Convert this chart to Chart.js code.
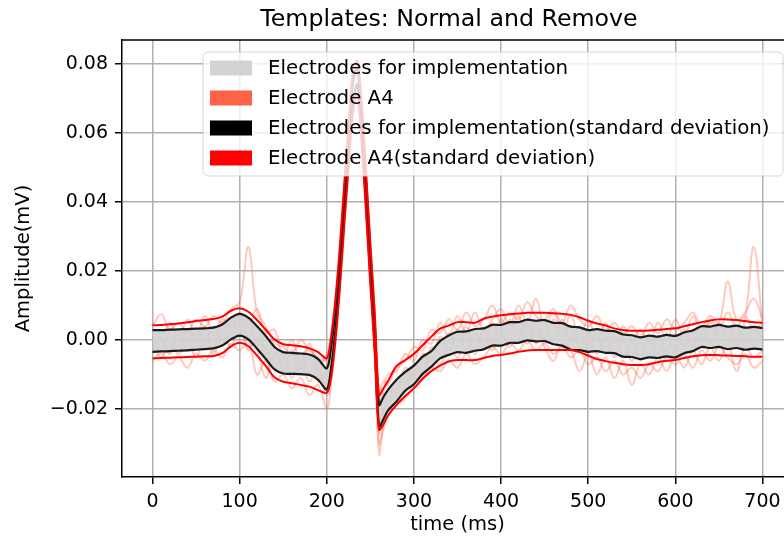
<!DOCTYPE html>
<html>
<head>
<meta charset="utf-8">
<script src="https://cdn.jsdelivr.net/npm/chart.js@4.4.0/dist/chart.umd.min.js"></script>
<style>
  html, body { margin: 0; padding: 0; background: #fff; overflow: hidden; }
  #wrap { width: 800px; height: 538px; }
</style>
</head>
<body>
<div id="wrap"><canvas id="templateChart" width="800" height="538"></canvas></div>
<script>
// time axis (ms), finer around the QRS spike
const times = [0, 10, 20, 30, 40, 50, 60, 70, 80, 90, 100, 110, 120, 130, 140, 150, 160, 170, 180, 190,
  200, 205, 210, 215, 220, 225, 230, 235, 240, 245, 250, 255, 260, 265, 270,
  280, 290, 300, 310, 320, 330, 340, 350, 360, 370, 380, 390, 400, 410, 420, 430, 440, 450, 460, 470, 480, 490, 500,
  510, 520, 530, 540, 550, 560, 570, 580, 590, 600, 610, 620, 630, 640, 650, 660, 670, 680, 690, 700];

// implementation electrodes: mean +/- std
const implUpper = [.0029, .0029, .0030, .0031, .0032, .0033, .0034, .0036, .0045, .0065, .0076, .0065, .0040, .0012, -.0020, -.0035, -.0037, -.0039, -.0042, -.0055,
  -.0082, -.002, .009, .024, .042, .059, .075, .079, .066, .046, .025, .005, -.0188, -.0165, -.0145,
  -.0115, -.0092, -.0074, -.0048, -.0032, -.0003, .0013, .0024, .0025, .0032, .0034, .0044, .0044, .0052, .0052, .0059, .0056, .0058, .0050, .0049, .0039, .0037, .0029,
  .0032, .0027, .0026, .0016, .0014, .0008, .0013, .0010, .0015, .0012, .0022, .0028, .0040, .0039, .0044, .0039, .0042, .0036, .0038, .0035];
const implLower = [-.0034, -.0033, -.0032, -.0031, -.0030, -.0028, -.0026, -.0024, -.0016, .0002, .0013, .0002, -.0025, -.0055, -.0085, -.0097, -.0098, -.0099, -.0101, -.0115,
  -.0143, -.008, .003, .018, .036, .053, .069, .074, .060, .040, .019, -.001, -.0251, -.023, -.0205,
  -.0178, -.0147, -.0128, -.0098, -.0077, -.0053, -.0043, -.0035, -.0037, -.0031, -.0027, -.0016, -.0016, -.0008, -.0008, -.0001, -.0004, -.0003, -.0012, -.0016, -.0028, -.0029, -.0034,
  -.0032, -.0037, -.0038, -.0048, -.0049, -.0055, -.0050, -.0052, -.0047, -.0050, -.0038, -.0032, -.0020, -.0023, -.0020, -.0026, -.0023, -.0028, -.0025, -.0027];

// electrode A4: mean +/- std
const a4Upper = [.0043, .0044, .0046, .0048, .0052, .0055, .0058, .0061, .0068, .0085, .0092, .0082, .0058, .0030, .0002, -.0012, -.0015, -.0018, -.0024, -.0035,
  -.0053, .001, .012, .027, .045, .062, .078, .081, .069, .049, .028, .008, -.016, -.014, -.012,
  -.0075, -.0058, -.0040, -.0015, .0010, .0033, .0042, .0052, .0052, .0050, .0062, .0068, .0072, .0075, .0077, .0079, .0079, .0079, .0078, .0076, .0073, .0066, .0056,
  .0048, .0042, .0034, .0029, .0027, .0027, .0028, .0030, .0032, .0034, .0040, .0046, .0052, .0057, .0060, .0060, .0058, .0055, .0052, .0050];
const a4Lower = [-.0053, -.0052, -.0051, -.0050, -.0049, -.0048, -.0047, -.0046, -.0038, -.0018, -.0008, -.0018, -.0045, -.0075, -.0108, -.0121, -.0125, -.0130, -.0135, -.0145,
  -.0153, -.011, .000, .015, .033, .050, .066, .071, .057, .037, .016, -.004, -.026, -.0245, -.022,
  -.0188, -.0162, -.0140, -.0112, -.0090, -.0074, -.0062, -.0058, -.0058, -.0058, -.0052, -.0046, -.0043, -.0039, -.0034, -.0030, -.0029, -.0029, -.0029, -.0029, -.0029, -.0035, -.0045,
  -.0055, -.0061, -.0066, -.0070, -.0072, -.0072, -.0070, -.0064, -.0060, -.0058, -.0052, -.0047, -.0044, -.0043, -.0044, -.0045, -.0046, -.0047, -.0048, -.0048];

// single A4 templates (faint)
const traceA = [.004, .0075, .003, .005, .002, .006, .004, .007, .005, .009, .011, .027, .008, .004, -.001, -.002, -.004, .000, -.003, -.005,
  -.006, -.001, .010, .025, .043, .060, .076, .080, .067, .047, .026, .006, -.016, -.012, -.013,
  -.008, -.006, -.002, -.003, .003, .002, .006, .003, .008, .004, .006, .010, .005, .008, .006, .011, .007, .006, .009, .005, .010, .006, .004,
  .007, .003, .005, .002, .004, .001, .005, .002, .006, .003, .005, .008, .004, .007, .005, .017, .006, .008, .012, .006];
const traceB = [-.006, -.004, -.007, -.005, -.008, -.004, -.006, -.003, -.005, -.001, -.003, .000, -.010, -.006, -.012, -.010, -.014, -.011, -.016, -.013,
  -.020, -.012, .000, .016, .034, .052, .068, .072, .059, .039, .018, -.002, -.030, -.026, -.022,
  -.019, -.017, -.013, -.011, -.008, -.009, -.006, -.008, -.004, -.007, -.005, -.002, -.004, -.001, -.003, .000, -.003, -.001, -.004, -.002, -.005, -.003, -.007,
  -.005, -.009, -.006, -.010, -.008, -.011, -.007, -.009, -.005, -.007, -.004, -.008, -.003, -.006, -.002, -.005, -.007, -.004, -.008, -.006];
const traceC = [.001, -.003, .002, -.002, .003, -.001, .004, -.002, .005, .002, .007, .001, .004, -.005, -.002, -.009, -.004, -.010, -.005, -.012,
  -.009, -.003, .008, .022, .040, .057, .074, .078, .064, .044, .023, .003, -.024, -.022, -.015,
  -.016, -.008, -.011, -.004, -.006, .001, -.003, .003, -.003, .002, -.002, .005, .000, .006, .001, .005, -.001, .004, .000, .006, .000, .004, -.003,
  .002, -.004, .001, -.005, .000, -.006, .001, -.004, .002, -.004, .003, -.002, .004, -.001, .005, .000, .004, -.001, .003, .000];
const traceD = [-.003, .000, -.004, .002, -.003, .003, -.002, .004, -.001, .006, .003, .006, -.002, -.011, -.004, -.007, -.003, -.008, -.002, -.009,
  -.014, -.007, .004, .019, .037, .054, .070, .074, .061, .041, .020, .000, -.027, -.020, -.019,
  -.012, -.013, -.007, -.009, -.002, -.004, .002, -.002, .004, -.003, .003, -.001, .006, .002, .007, .001, .005, .000, .006, .001, .004, -.002, .002,
  -.004, .001, -.005, .000, -.006, -.001, -.004, .001, -.003, .002, -.002, .003, .000, .005, .001, .003, -.001, .006, .027, .004];
const traceE = [-.001, -.005, -.001, -.004, .000, -.005, .001, -.004, .002, -.002, .004, -.003, .001, -.003, -.008, -.005, -.011, -.006, -.012, -.008,
  -.016, -.009, .002, .018, .036, .053, .069, .075, .062, .042, .021, .000, -.033, -.024, -.020,
  -.014, -.015, -.009, -.010, -.005, -.007, -.002, -.005, .000, -.004, .001, -.003, .002, -.002, .003, -.001, .003, -.002, -.006, -.001, -.003, -.009, -.004,
  -.010, -.005, -.011, -.006, -.013, -.007, -.010, -.005, -.009, -.004, -.008, -.003, -.007, -.002, -.006, -.001, -.009, -.002, -.005, -.003];
const traceF = [.003, .001, .005, .000, .006, .001, .007, .002, .006, .004, .008, .004, .009, .002, .003, -.005, .000, -.006, -.001, -.007,
  -.004, .002, .012, .027, .045, .062, .078, .081, .069, .048, .027, .008, -.018, -.015, -.010,
  -.009, -.004, -.006, .000, -.001, .005, .001, .007, .002, .008, .003, .006, .009, .004, .010, .005, .012, .004, .008, .003, .007, .001, .006,
  .000, .005, -.001, .004, .000, .003, -.001, .005, .000, .006, .001, .007, .002, .006, .003, .008, .004, .007, .003, .005];

const legendLabels = ["Electrodes for implementation", "Electrode A4",
  "Electrodes for implementation(standard deviation)", "Electrode A4(standard deviation)"];
const legendColors = ["#d3d3d3", "#ff6347", "#000000", "#ff0000"];

const FONT = "'DejaVu Sans', sans-serif";
const pts = (ys) => times.map((t, i) => ({ x: t, y: ys[i] }));

const traceSets = [traceA, traceB, traceC, traceD, traceE, traceF].map((ys) => ({
  data: pts(ys),
  borderColor: "rgba(255, 99, 71, 0.35)",
  borderWidth: 2,
  pointRadius: 0,
  tension: 0.4,
  fill: false,
  order: 10
}));

// title, frame and legend drawn matplotlib-style
const decor = {
  id: "decor",
  afterDatasetsDraw(chart) {
    const { ctx, chartArea: a } = chart;
    ctx.save();
    ctx.strokeStyle = "#000";
    ctx.lineWidth = 1.5;
    ctx.beginPath();
    ctx.moveTo(a.left, a.top);
    ctx.lineTo(a.right, a.top);
    ctx.lineTo(a.right, a.bottom);
    ctx.stroke();

    // legend box
    const bx = 203, by = 52, bw = 580, bh = 124;
    ctx.beginPath();
    ctx.roundRect(bx, by, bw, bh, 5);
    ctx.fillStyle = "rgba(255,255,255,0.8)";
    ctx.fill();
    ctx.strokeStyle = "rgba(204,204,204,0.8)";
    ctx.lineWidth = 1;
    ctx.stroke();
    ctx.font = "19.8px " + FONT;
    ctx.textBaseline = "middle";
    ctx.textAlign = "left";
    legendLabels.forEach((lab, i) => {
      const cy = 68 + i * 30;
      ctx.fillStyle = legendColors[i];
      ctx.fillRect(210, cy - 7.5, 42, 15);
      ctx.fillStyle = "#000";
      ctx.fillText(lab, 268, cy + 1);
    });

    // title
    ctx.font = "23.7px " + FONT;
    ctx.textAlign = "center";
    ctx.fillText("Templates: Normal and Remove", 449, 20);
    ctx.restore();
  }
};

new Chart(document.getElementById("templateChart"), {
  type: "line",
  data: {
    datasets: [
      ...traceSets,
      {
        label: legendLabels[2],
        data: pts(implUpper),
        borderColor: "#1a1a1a",
        borderWidth: 2.2,
        pointRadius: 0,
        tension: 0.3,
        fill: { target: 7 },
        backgroundColor: "rgba(211, 211, 211, 0.92)",
        order: 5
      },
      {
        label: legendLabels[2],
        data: pts(implLower),
        borderColor: "#1a1a1a",
        borderWidth: 2.2,
        pointRadius: 0,
        tension: 0.3,
        fill: false,
        order: 4
      },
      {
        label: legendLabels[3],
        data: pts(a4Upper),
        borderColor: "#ff0000",
        borderWidth: 2,
        pointRadius: 0,
        tension: 0.3,
        fill: false,
        order: 2
      },
      {
        label: legendLabels[3],
        data: pts(a4Lower),
        borderColor: "#ff0000",
        borderWidth: 2,
        pointRadius: 0,
        tension: 0.3,
        fill: false,
        order: 1
      }
    ]
  },
  options: {
    responsive: false,
    animation: false,
    events: [],
    layout: { padding: { top: 40, right: 7, left: 0, bottom: 0 } },
    plugins: { legend: { display: false }, tooltip: { enabled: false } },
    scales: {
      x: {
        type: "linear",
        min: -35,
        max: 735,
        afterFit: (s) => { s.height = 61; },
        grid: { color: "#b0b0b0", lineWidth: 1.5, tickColor: "#000", tickLength: 7 },
        border: { display: true, color: "#000", width: 1.5 },
        ticks: {
          stepSize: 100,
          includeBounds: false,
          maxRotation: 0,
          padding: 7,
          color: "#000",
          font: { family: FONT, size: 19 },
          callback: (v) => String(v)
        },
        title: {
          display: true,
          text: "time (ms)",
          color: "#000",
          font: { family: FONT, size: 19.5 },
          padding: { top: 0, bottom: 1 }
        }
      },
      y: {
        type: "linear",
        min: -0.0397,
        max: 0.087,
        afterFit: (s) => { s.width = 122; },
        grid: { color: "#b0b0b0", lineWidth: 1.5, tickColor: "#000", tickLength: 7 },
        border: { display: true, color: "#000", width: 1.5 },
        ticks: {
          stepSize: 0.02,
          includeBounds: false,
          padding: 7,
          color: "#000",
          font: { family: FONT, size: 19 },
          callback: (v) => Math.abs(v) < 1e-9 ? "0.00" : v.toFixed(2).replace("-", "\u2212")
        },
        title: {
          display: true,
          text: "Amplitude(mV)",
          color: "#000",
          font: { family: FONT, size: 19.5 },
          padding: { top: 12, bottom: 0 }
        }
      }
    }
  },
  plugins: [decor]
});
</script>
</body>
</html>
